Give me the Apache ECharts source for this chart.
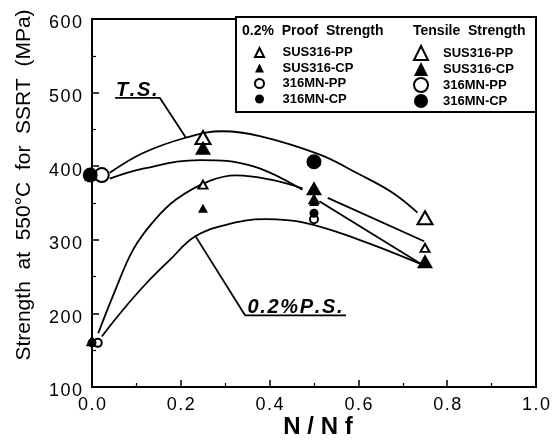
<!DOCTYPE html>
<html><head><meta charset="utf-8">
<script src="https://cdn.jsdelivr.net/npm/echarts@6/dist/echarts.min.js"></script>
<style>html,body{margin:0;padding:0;background:#fff}#c{width:554px;height:441px}</style>
</head><body><div id="c"></div>
<script>
// ---- data ----
var xTicks = [0, 0.2, 0.4, 0.6, 0.8, 1.0];
var yTicks = [100, 200, 300, 400, 500, 600];
// 0.2% proof strength (small markers)
var psSUS316PP = [[0, 162], [0.25, 375], [0.5, 355], [0.75, 289]];
var psSUS316CP = [[0, 162], [0.25, 343], [0.5, 352], [0.75, 272]];
var ps316MNPP = [[0.013, 160], [0.5, 328]];
var ps316MNCP = [[0, 160], [0.5, 336]];
// tensile strength (large markers)
var tsSUS316PP = [[0.25, 439], [0.75, 330]];
var tsSUS316CP = [[0, 390], [0.25, 425], [0.5, 370], [0.75, 271]];
var ts316MNPP = [[0.022, 388]];
var ts316MNCP = [[-0.004, 388], [0.5, 406]];
// fitted curves
var tsUpperCurve = [[0.04, 391], [0.115, 418], [0.213, 439], [0.294, 447.5], [0.378, 441], [0.512, 416], [0.602, 389], [0.677, 364], [0.733, 337]];
var tsLowerCurve = [[0.04, 383], [0.115, 396.6], [0.243, 408.3], [0.362, 400], [0.474, 368]];
var psUpperCurve = [[0.014, 173], [0.05, 228], [0.093, 287], [0.14, 326], [0.19, 355], [0.265, 380], [0.325, 387.5], [0.4, 382], [0.474, 370]];
var psLowerCurve = [[0.022, 168.6], [0.07, 205], [0.123, 241.3], [0.176, 273], [0.231, 304], [0.3, 320], [0.39, 328], [0.48, 323], [0.602, 300], [0.737, 268]];
var segUpper = [[0.531, 357], [0.748, 298]];
var segLower = [[0.512, 352.5], [0.744, 266]];
// annotation leaders (data coords)
var tsLeader = [[0.052, 492.7], [0.153, 492.7], [0.212, 438.3]];
var psLeader = [[0.572, 197.2], [0.345, 197.2], [0.232, 306]];
var tsLabelAt = [0.054, 503.5];
var psLabelAt = [0.35, 208.7];

var FONT = '"Liberation Sans", Arial, Helvetica, sans-serif';
var TRI = 'path://M0,0L1,2L-1,2Z';
var HS = '\u200A';
function spaced(s) { return s.split('').join(HS); }

function curve(name, data, smooth) {
  return { name: name, type: 'line', data: data, smooth: smooth, showSymbol: false, symbol: 'none',
    lineStyle: { color: '#000', width: 1.8 }, z: 2, silent: true, clip: false };
}
function marks(name, data, symbol, size, open) {
  return { name: name, type: 'scatter', data: data, symbol: symbol, symbolSize: size, clip: false, z: 5,
    itemStyle: { color: open ? '#fff' : '#000', borderColor: '#000', borderWidth: open ? 2 : 0, opacity: 1 } };
}

var chart = echarts.init(document.getElementById('c'), null, { renderer: 'canvas' });
var psNames = ['PS SUS316-PP', 'PS SUS316-CP', 'PS 316MN-PP', 'PS 316MN-CP'];
var tsNames = ['TS SUS316-PP', 'TS SUS316-CP', 'TS 316MN-PP', 'TS 316MN-CP'];
var legendBase = {
  orient: 'vertical', top: 40, itemGap: 0.5, selectedMode: false,
  formatter: function (n) { return n.slice(3); },
  textStyle: { fontFamily: FONT, fontSize: 13, fontWeight: 'bold', color: '#000', lineHeight: 15 }
};
var tickFont = { fontFamily: FONT, fontSize: 18, color: '#000' };
chart.setOption({
  animation: false,
  backgroundColor: '#fff',
  grid: { left: 92, right: 18, top: 19, bottom: 54, show: true, borderColor: '#000', borderWidth: 2 },
  xAxis: {
    type: 'value', min: xTicks[0], max: xTicks[xTicks.length - 1], interval: 0.2,
    axisLine: { lineStyle: { color: '#000', width: 2 } },
    axisTick: { inside: true, length: 7, lineStyle: { color: '#000', width: 1.5 } },
    minorTick: { show: true, splitNumber: 2, length: 4, lineStyle: { color: '#000', width: 1.2 } },
    splitLine: { show: false },
    axisLabel: { color: '#000', fontFamily: FONT, fontSize: 18, margin: 9, formatter: function (v) { return spaced(v.toFixed(1)); } }
  },
  yAxis: {
    type: 'value', min: yTicks[0], max: yTicks[yTicks.length - 1], interval: 100,
    axisLine: { lineStyle: { color: '#000', width: 2 } },
    axisTick: { inside: true, length: 7, lineStyle: { color: '#000', width: 1.5 } },
    minorTick: { show: true, splitNumber: 2, length: 4, lineStyle: { color: '#000', width: 1.2 } },
    splitLine: { show: false },
    axisLabel: { margin: 10, formatter: function (v) { return '{v|' + spaced(String(v)) + '}'; },
      rich: { v: Object.assign({ padding: [9, 0, 0, 0] }, tickFont) } }
  },
  legend: [
    Object.assign({}, legendBase, { left: 249, itemWidth: 36, itemHeight: 9, data: psNames }),
    Object.assign({}, legendBase, { left: 408, itemWidth: 34, itemHeight: 14, data: tsNames })
  ],
  series: [
    curve('c1', tsUpperCurve, 0.4),
    curve('c2', tsLowerCurve, 0.4),
    curve('c3', psUpperCurve, 0.4),
    curve('c4', psLowerCurve, 0.4),
    curve('c5', segUpper, false),
    curve('c6', segLower, false),
    curve('a1', tsLeader, false),
    curve('a2', psLeader, false),
    marks(psNames[0], psSUS316PP, TRI, [9, 8], true),
    marks(psNames[1], psSUS316CP, TRI, [10, 9], false),
    marks(psNames[2], ps316MNPP, 'circle', 8, true),
    marks(psNames[3], ps316MNCP, 'circle', 9, false),
    marks(tsNames[0], tsSUS316PP, TRI, [15, 13], true),
    marks(tsNames[1], tsSUS316CP, TRI, [16, 14], false),
    marks(tsNames[2], ts316MNPP, 'circle', 14, true),
    marks(tsNames[3], ts316MNCP, 'circle', 15, false)
  ]
});
var tsP = chart.convertToPixel({ gridIndex: 0 }, tsLabelAt);
var psP = chart.convertToPixel({ gridIndex: 0 }, psLabelAt);
chart.setOption({
  graphic: [
    { type: 'rect', z: 0, zlevel: 0, shape: { x: 236, y: 17, width: 300, height: 95 },
      style: { fill: '#fff', stroke: '#000', lineWidth: 2 } },
    { type: 'text', z: 10, x: 242, y: 31, style: { text: '0.2%  Proof  Strength', font: 'bold 14px ' + FONT, fill: '#000', textAlign: 'left', textVerticalAlign: 'middle' } },
    { type: 'text', z: 10, x: 413, y: 31, style: { text: 'Tensile  Strength', font: 'bold 14px ' + FONT, fill: '#000', textAlign: 'left', textVerticalAlign: 'middle' } },
    { type: 'text', z: 10, x: 24, y: 185, rotation: Math.PI / 2,
      style: { text: 'Strength  at  550°C  for  SSRT  (MPa)', font: '21px ' + FONT, fill: '#000', textAlign: 'center', textVerticalAlign: 'middle' } },
    { type: 'text', z: 10, x: 318, y: 427,
      style: { text: 'N / N f', font: 'bold 24px ' + FONT, fill: '#000', textAlign: 'center', textVerticalAlign: 'middle' } },
    { type: 'text', z: 10, x: tsP[0], y: tsP[1],
      style: { text: spaced('T.S.'), font: 'italic bold 20px ' + FONT, fill: '#000', textAlign: 'left', textVerticalAlign: 'middle' } },
    { type: 'text', z: 10, x: psP[0], y: psP[1],
      style: { text: spaced('0.2%P.S.'), font: 'italic bold 20px ' + FONT, fill: '#000', textAlign: 'left', textVerticalAlign: 'middle' } }
  ]
});
</script></body></html>
